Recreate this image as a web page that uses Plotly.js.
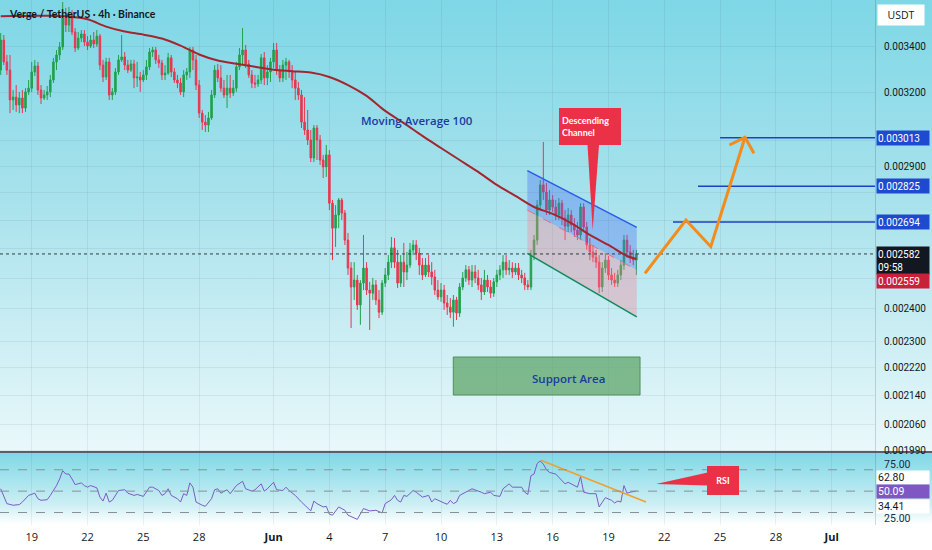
<!DOCTYPE html>
<html><head><meta charset="utf-8">
<script src="https://cdn.plot.ly/plotly-3.0.1.min.js"></script>
<style>
html,body{margin:0;padding:0;background:#fff;}
#chart{width:932px;height:550px;background:linear-gradient(180deg,#7ed7e6 0px,#a8e2ec 200px,#e9f8fa 451px,#5a5f66 451px,#5a5f66 453px,#80d8e6 453px,#cdeff4 505px,#ffffff 524px,#ffffff 550px);}
</style></head><body><div id="chart"></div>
<script>
// ---- data (prices in millionths of USDT) ----
const candleStart = Date.UTC(2024, 4, 17, 8, 0);
const candleHours = 4;
const firstOpenE6 = 3296;
const closeE6 = [
3430,3332,3296,3168,3180,3147,3176,3134,3202,3218,
3288,3314,3210,3176,3189,3202,3253,3332,3363,3399,
3532,3499,3546,3467,3394,3439,3458,3421,3403,3430,
3412,3448,3318,3266,3332,3189,3202,3288,3341,3354,
3318,3296,3323,3262,3266,3253,3275,3310,3376,3385,
3341,3327,3275,3283,3350,3288,3253,3240,3202,3275,
3288,3385,3341,3231,3113,3076,3064,3093,3189,3296,
3262,3218,3189,3218,3197,3218,3310,3363,3385,3323,
3275,3240,3236,3253,3350,3262,3288,3332,3385,3296,
3262,3318,3332,3288,3253,3218,3189,3076,3044,3004,
2933,3052,3004,2925,2898,2945,2762,2672,2719,2774,
2726,2630,2534,2471,2494,2413,2484,2534,2461,2451,
2478,2429,2390,2484,2511,2554,2603,2554,2484,2554,
2521,2544,2596,2613,2585,2544,2511,2544,2521,2504,
2461,2439,2461,2419,2406,2390,2429,2387,2471,2501,
2528,2494,2521,2501,2478,2455,2494,2471,2451,2488,
2511,2528,2554,2528,2534,2521,2534,2511,2501,2478,
2471,2578,2630,2755,2830,2803,2737,2774,2748,2719,
2762,2708,2679,2719,2683,2665,2648,2748,2676,2613,
2589,2571,2554,2471,2534,2561,2511,2494,2484,2511,
2544,2630,2589,2568,2561,2582];
const highE6 = [
3462,3453,3363,3363,3210,3231,3202,3210,3218,3253,
3332,3341,3332,3231,3210,3227,3275,3350,3385,3421,
3608,3580,3584,3570,3485,3467,3476,3476,3448,3453,
3467,3476,3458,3341,3350,3350,3218,3305,3363,3453,
3376,3341,3341,3341,3332,3288,3296,3341,3394,3399,
3399,3363,3341,3318,3372,3363,3305,3275,3262,3296,
3305,3399,3399,3363,3253,3126,3105,3118,3210,3318,
3323,3318,3253,3275,3275,3253,3332,3394,3485,3408,
3341,3296,3275,3275,3367,3376,3318,3350,3417,3417,
3318,3341,3350,3341,3318,3288,3244,3210,3180,3126,
3044,3064,3064,3024,2945,2984,2964,2774,2755,2781,
2781,2737,2655,2554,2554,2511,2494,2648,2554,2488,
2501,2494,2461,2494,2534,2578,2641,2637,2596,2578,
2620,2589,2620,2630,2630,2603,2568,2568,2578,2554,
2528,2494,2484,2478,2445,2435,2445,2439,2484,2521,
2544,2541,2544,2544,2528,2501,2528,2511,2494,2501,
2528,2544,2578,2578,2561,2554,2551,2551,2528,2518,
2494,2596,2648,2774,2848,2996,2837,2811,2792,2774,
2781,2774,2737,2744,2737,2708,2694,2762,2762,2694,
2637,2613,2596,2578,2554,2585,2575,2534,2518,2528,
2561,2648,2648,2613,2596,2596];
const lowE6 = [
3275,3318,3275,3113,3126,3118,3113,3113,3118,3189,
3202,3270,3189,3151,3168,3168,3180,3240,3296,3341,
3385,3467,3467,3453,3376,3385,3421,3403,3385,3394,
3394,3399,3296,3244,3253,3168,3168,3189,3275,3332,
3296,3283,3288,3218,3223,3202,3244,3253,3296,3354,
3323,3305,3253,3253,3275,3266,3240,3218,3189,3180,
3253,3262,3296,3210,3093,3044,3036,3036,3085,3176,
3244,3202,3176,3134,3176,3185,3202,3296,3318,3305,
3262,3218,3218,3223,3236,3231,3231,3244,3305,3275,
3244,3244,3253,3262,3218,3168,3168,3052,3024,2984,
2917,2917,2925,2906,2856,2860,2737,2561,2606,2672,
2701,2613,2511,2340,2429,2397,2350,2461,2445,2334,
2429,2413,2371,2381,2471,2494,2534,2534,2468,2471,
2471,2494,2534,2578,2561,2511,2494,2504,2504,2478,
2445,2429,2423,2397,2381,2371,2344,2365,2375,2461,
2488,2478,2471,2484,2461,2429,2445,2455,2435,2439,
2471,2494,2501,2511,2511,2501,2511,2494,2484,2461,
2461,2461,2561,2613,2737,2774,2719,2719,2730,2701,
2701,2683,2630,2658,2658,2641,2630,2630,2658,2596,
2561,2554,2534,2451,2455,2518,2494,2478,2471,2471,
2494,2528,2568,2551,2544,2511];

const maDates = ['2024-05-17 08:00','2024-05-18','2024-05-19','2024-05-20','2024-05-21','2024-05-22','2024-05-23','2024-05-24','2024-05-25','2024-05-26','2024-05-27','2024-05-28','2024-05-29','2024-05-30','2024-05-31','2024-06-01','2024-06-02','2024-06-03','2024-06-04','2024-06-05','2024-06-06','2024-06-07','2024-06-08','2024-06-09','2024-06-10','2024-06-11','2024-06-12','2024-06-13','2024-06-14','2024-06-15','2024-06-16','2024-06-17','2024-06-18','2024-06-19','2024-06-20','2024-06-20 12:00'];
const maE6 = [3540,3541,3542,3543,3539,3526,3492,3469,3455,3437,3405,3365,3338,3324,3311,3297,3291,3285,3266,3231,3185,3122,3072,3020,2972,2925,2879,2830,2789,2748,2723,2690,2648,2613,2575,2565];

const rsiIdx = [0,1,2,4,6,7,9,11,12,13,15,16,18,19,20,21,22,23,24,26,27,28,29,31,32,33,34,35,36,38,40,41,43,44,46,48,49,51,52,53,54,55,57,58,59,60,61,62,63,65,66,68,69,70,71,73,74,76,77,78,79,81,82,84,85,86,88,89,91,92,93,95,97,98,100,101,102,104,105,106,107,109,111,112,114,115,117,119,121,123,124,126,127,128,129,130,131,133,134,136,138,139,140,142,143,144,145,146,147,148,150,152,155,156,158,159,161,162,164,165,168,169,170,171,172,173,174,175,176,177,179,180,182,183,185,186,187,188,190,192,193,195,197,198,199,200,201,202,203,204,205];
const rsiVal = [52.2,46.0,38.3,36.8,37.4,39.8,46.0,48.1,42.9,41.4,42.0,46.0,55.2,61.4,69.1,66.0,66.0,61.4,56.1,57.7,55.2,53.7,55.2,53.1,44.4,40.7,48.1,39.8,41.4,50.6,51.3,48.1,46.0,46.9,45.1,53.7,53.7,50.6,46.0,47.6,52.2,46.0,42.9,39.8,47.6,46.0,57.7,53.7,39.8,36.8,35.8,42.9,51.3,52.2,48.1,51.3,47.6,55.2,57.3,59.2,52.2,50.0,51.3,56.8,50.0,52.2,58.3,51.3,50.6,53.7,50.6,46.0,39.8,36.8,31.5,40.7,38.3,35.2,35.8,28.4,27.5,35.2,32.1,27.5,25.4,23.6,33.7,31.5,32.1,29.6,38.3,42.0,46.0,41.4,39.8,46.0,45.1,50.6,49.0,44.4,46.0,39.8,42.9,40.7,38.9,37.7,41.4,38.3,39.8,46.0,49.0,52.2,49.0,47.6,49.0,46.0,45.1,52.2,56.8,53.7,53.7,49.0,46.9,64.5,66.0,75.8,78.3,75.3,70.0,67.5,66.0,62.9,56.8,58.3,55.2,53.7,63.5,49.0,47.6,47.6,35.2,43.9,41.4,38.9,40.7,39.8,55.2,48.1,49.0,49.5,50.09];

const xTickDates = ['2024-05-19','2024-05-22','2024-05-25','2024-05-28','2024-06-01','2024-06-04','2024-06-07','2024-06-10','2024-06-13','2024-06-16','2024-06-19','2024-06-22','2024-06-25','2024-06-28','2024-07-01'];
const xTickText = ['19','22','25','28','<b>Jun</b>','4','7','10','13','16','19','22','25','28','<b>Jul</b>'];
const xRange = ['2024-05-17 07:06','2024-07-03 07:50'];
const priceTicks = [0.0034,0.0032,0.0030,0.0029,0.0028,0.0027,0.0026,0.0025,0.0024,0.0023,0.00222,0.00214,0.00206,0.00199];
const priceTickText = ['0.003400','0.003200','','0.002900','','','','','0.002400','0.002300','0.002220','0.002140','0.002060','0.001990'];
const priceRange = [0.0019849, 0.0036175];
const rsiRange = [18.3, 85.7];
const rsiBands = [70, 50, 30];
const rsiTicks = [75, 25];

const targetLevels = [0.003013, 0.002825, 0.002694];
const targetStarts = ['2024-06-25 00:00','2024-06-23 19:30','2024-06-22 11:15'];
const lastPrice = 0.002582, lastTimer = '09:58', prevPrice = 0.002559;
const rsiLast = 50.09, rsiUpper = 62.80, rsiLower = 34.41;

const channelTimes = ['2024-06-14 15:20','2024-06-20 12:30'];
const channelTop = [0.0028838, 0.002675];
const channelMid = [0.002737, 0.0025276];
const channelBottom = [0.002584, 0.002375];

const supportTimes = ['2024-06-10 15:50','2024-06-20 16:45'];
const supportPrices = [0.0022518, 0.0021409];

const projTimes = ['2024-06-20 23:05','2024-06-23 04:00','2024-06-24 12:00','2024-06-26 08:10'];
const projPrices = [0.0025165, 0.002701, 0.002607, 0.0030146];
const headTimes = ['2024-06-25 12:00','2024-06-26 08:10','2024-06-26 19:40'];
const headPrices = [0.002984, 0.0030146, 0.002951];

const rsiTrendTimes = ['2024-06-15 08:55','2024-06-21 00:30'];
const rsiTrendVals = [78.96, 39.8];

const descBox = {t:'2024-06-18 00:10', p:0.0030573};
const descPointerTimes = ['2024-06-17 20:40','2024-06-18 03:40','2024-06-18 12:10'];
const descPointerPrices = [0.0030, 0.0026653, 0.0030];
const rsiBox = {t:'2024-06-25 03:20', v:59.8};
const rsiPointerTimes = ['2024-06-21 13:25','2024-06-24 08:00','2024-06-24 08:00'];
const rsiPointerVals = [56.6, 67.5, 55.2];
const maLabel = {t:'2024-06-08 17:00', p:0.0030846};
const supportLabel = {t:'2024-06-16 21:05', p:0.0021898};

// ---- build ----
const E6 = 1e-6;
function fmt(ms){ return new Date(ms).toISOString().slice(0,16).replace('T',' '); }
const times = closeE6.map((_, i) => fmt(candleStart + i*candleHours*3600e3));
const close = closeE6.map(v => v*E6);
const open = closeE6.map((_, i) => (i === 0 ? firstOpenE6 : closeE6[i-1])*E6);
const high = highE6.map(v => v*E6);
const low = lowE6.map(v => v*E6);
const rsiTimes = rsiIdx.map(i => times[i]);
const L = v => Math.log10(v);

const UP = '#22a04c', DN = '#e8374e', CALL = '#ea3148', BLUE = '#1e40c9';
const traces = [];
traces.push({type:'scatter', x:[channelTimes[0],channelTimes[1],channelTimes[1],channelTimes[0],channelTimes[0]],
  y:[channelTop[0],channelTop[1],channelMid[1],channelMid[0],channelTop[0]], fill:'toself', fillcolor:'rgba(70,110,240,0.35)', line:{width:0}, mode:'lines', xaxis:'x', yaxis:'y'});
traces.push({type:'scatter', x:[channelTimes[0],channelTimes[1],channelTimes[1],channelTimes[0],channelTimes[0]],
  y:[channelMid[0],channelMid[1],channelBottom[1],channelBottom[0],channelMid[0]], fill:'toself', fillcolor:'rgba(250,130,150,0.35)', line:{width:0}, mode:'lines', xaxis:'x', yaxis:'y'});
traces.push({type:'scatter', x:[supportTimes[0],supportTimes[1],supportTimes[1],supportTimes[0],supportTimes[0]],
  y:[supportPrices[0],supportPrices[0],supportPrices[1],supportPrices[1],supportPrices[0]], fill:'toself', fillcolor:'rgba(95,165,105,0.75)', line:{width:1,color:'rgba(70,140,80,0.9)'}, mode:'lines'});
traces.push({type:'scatter', x:xRange, y:[lastPrice,lastPrice], mode:'lines', line:{color:'#333a45', width:1, dash:'dot'}});
traces.push({type:'candlestick', x:times, open:open, high:high, low:low, close:close,
  increasing:{line:{color:UP,width:1}, fillcolor:UP}, decreasing:{line:{color:DN,width:1}, fillcolor:DN}, whiskerwidth:0, xaxis:'x', yaxis:'y'});
traces.push({type:'scatter', x:maDates, y:maE6.map(v=>v*E6), mode:'lines', line:{color:'#a3262f', width:2, shape:'spline', smoothing:0.8}});
traces.push({type:'scatter', x:channelTimes, y:channelTop, mode:'lines', line:{color:'#2b5bea', width:1.5}});
traces.push({type:'scatter', x:channelTimes, y:channelMid, mode:'lines', line:{color:'#e0708a', width:1, dash:'dash'}});
traces.push({type:'scatter', x:channelTimes, y:channelBottom, mode:'lines', line:{color:'#13895c', width:1.5}});
targetLevels.forEach((lv, i) => traces.push({type:'scatter', x:[targetStarts[i], xRange[1]], y:[lv, lv], mode:'lines', line:{color:BLUE, width:1.5}}));
traces.push({type:'scatter', x:projTimes, y:projPrices, mode:'lines', line:{color:'#f28c1c', width:3}});
traces.push({type:'scatter', x:headTimes, y:headPrices, mode:'lines', line:{color:'#f28c1c', width:3}});
traces.push({type:'scatter', x:descPointerTimes.concat([descPointerTimes[0]]), y:descPointerPrices.concat([descPointerPrices[0]]), fill:'toself', fillcolor:CALL, line:{width:0,color:CALL}, mode:'lines'});
traces.push({type:'scatter', x:rsiTimes, y:rsiVal, mode:'lines', line:{color:'#7b5cc4', width:1}, xaxis:'x2', yaxis:'y2'});
traces.push({type:'scatter', x:rsiTrendTimes, y:rsiTrendVals, mode:'lines', line:{color:'#f0a030', width:1.5}, xaxis:'x2', yaxis:'y2'});
traces.push({type:'scatter', x:rsiPointerTimes.concat([rsiPointerTimes[0]]), y:rsiPointerVals.concat([rsiPointerVals[0]]), fill:'toself', fillcolor:CALL, line:{width:0,color:CALL}, mode:'lines', xaxis:'x2', yaxis:'y2'});

const shapes = rsiBands.map(v => ({type:'line', xref:'paper', x0:0, x1:1, yref:'y2', y0:v, y1:v, line:{color:'#8a8f98', width:1, dash:'dash'}}));

const PX = 875, PH = 525;
const annotations = [];
annotations.push({xref:'paper', yref:'paper', x:7/PX, y:1-14/PH, xanchor:'left', yanchor:'middle', showarrow:false,
  text:'<b>Verge / TetherUS · 4h · Binance</b>', font:{family:'Lato', size:10.5, color:'#131722'}});
annotations.push({xref:'paper', yref:'paper', x:901/PX, y:1-14.5/PH, xanchor:'center', yanchor:'middle', showarrow:false,
  text:'USDT', font:{family:'Open Sans', size:10.5, color:'#131722'}, bgcolor:'#ffffff', width:44, height:18, borderpad:1});
annotations.push({x:maLabel.t, y:L(maLabel.p), xref:'x', yref:'y', showarrow:false, text:'Moving Average 100',
  font:{family:'Open Sans', size:11.5, color:'#1b3c9e', weight:600}});
annotations.push({x:supportLabel.t, y:L(supportLabel.p), xref:'x', yref:'y', showarrow:false, text:'Support Area',
  font:{family:'Open Sans', size:11.5, color:'#1b3c9e', weight:600}});
annotations.push({x:descBox.t, y:L(descBox.p), xref:'x', yref:'y', showarrow:false, text:'<b>Descending<br>Channel</b>', align:'left',
  font:{family:'Lato', size:9, color:'#ffffff'}, bgcolor:CALL, bordercolor:CALL, width:56, height:31, borderpad:2});
annotations.push({x:rsiBox.t, y:rsiBox.v, xref:'x2', yref:'y2', showarrow:false, text:'<b>RSI</b>',
  font:{family:'Lato', size:9, color:'#ffffff'}, bgcolor:CALL, bordercolor:CALL, width:26, height:23, borderpad:2});
const axX = 876/PX;
targetLevels.forEach(lv => annotations.push({xref:'paper', yref:'y', x:axX, y:L(lv), xanchor:'left', yanchor:'middle', showarrow:false,
  text:lv.toFixed(6), align:'left', font:{family:'Roboto', size:10, color:'#ffffff'}, bgcolor:'#1f4ad0', width:50, height:12, borderpad:1}));
annotations.push({xref:'paper', yref:'y', x:axX, y:L(lastPrice), yshift:-6.5, xanchor:'left', yanchor:'middle', showarrow:false,
  text:lastPrice.toFixed(6)+'<br>'+lastTimer, align:'left', font:{family:'Roboto', size:10, color:'#ffffff'}, bgcolor:'#131722', width:50, height:25, borderpad:1});
annotations.push({xref:'paper', yref:'y', x:axX, y:L(prevPrice), yshift:-20, xanchor:'left', yanchor:'middle', showarrow:false,
  text:prevPrice.toFixed(6), align:'left', font:{family:'Roboto', size:10, color:'#ffffff'}, bgcolor:'#c9213a', width:50, height:12, borderpad:1});
[[rsiUpper,'#ffffff','#131722',0],[rsiLast,'#7e57c2','#ffffff',0],[rsiLower,'#ffffff','#131722',1.5]].forEach(([v,bg,fc,sh]) =>
  annotations.push({xref:'paper', yref:'y2', x:axX, y:v, yshift:sh, xanchor:'left', yanchor:'middle', showarrow:false,
    text:v.toFixed(2), align:'left', font:{family:'Roboto', size:10.5, color:fc}, bgcolor:bg, width:50, height:11, borderpad:1}));

const grid = 'rgba(42,46,57,0.07)';
const layout = {
  width:932, height:550, margin:{l:0, r:57, t:0, b:25},
  paper_bgcolor:'rgba(0,0,0,0)', plot_bgcolor:'rgba(0,0,0,0)',
  showlegend:false, hovermode:false, dragmode:false,
  font:{family:'Roboto', size:10, color:'#131722'},
  xaxis:{domain:[0,1], anchor:'y', type:'date', range:xRange, rangeslider:{visible:false}, showticklabels:false,
    tickvals:xTickDates, showgrid:true, gridcolor:grid, zeroline:false, showline:false, ticks:''},
  xaxis2:{domain:[0,1], anchor:'y2', type:'date', range:xRange, matches:'x', tickvals:xTickDates, ticktext:xTickText,
    tickfont:{family:'Open Sans', size:11, color:'#131722'}, showgrid:true, gridcolor:grid, zeroline:false, showline:false, ticks:'', ticklabelstandoff:4},
  yaxis:{domain:[(PH-452)/PH, 1], anchor:'x', type:'log', side:'right', range:priceRange.map(L),
    tickvals:priceTicks, ticktext:priceTickText, tickfont:{family:'Roboto', size:10, color:'#131722'},
    showgrid:true, gridcolor:grid, zeroline:false, showline:true, linecolor:'rgba(42,46,57,0.18)', ticks:'', ticklabelstandoff:6},
  yaxis2:{domain:[0,(PH-453)/PH], anchor:'x2', side:'right', range:rsiRange, tickvals:rsiTicks, ticktext:rsiTicks.map(v=>v.toFixed(2)),
    tickfont:{family:'Roboto', size:10.5, color:'#1a2a4a'}, showgrid:false, zeroline:false, showline:true, linecolor:'rgba(42,46,57,0.18)', ticks:'', ticklabelstandoff:6},
  shapes:shapes, annotations:annotations
};
Plotly.newPlot('chart', traces, layout, {staticPlot:true, displayModeBar:false});
</script></body></html>
